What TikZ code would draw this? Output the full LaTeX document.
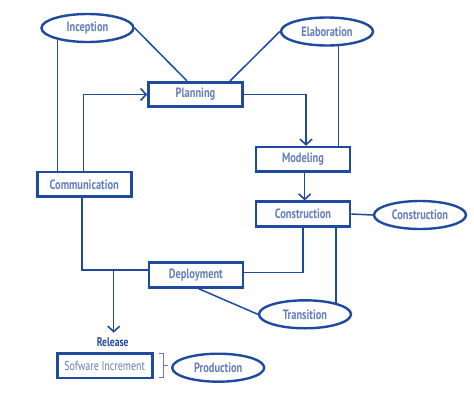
\documentclass[tikz,border=0pt]{standalone}
\usepackage{fontspec}
\setmainfont{PT Sans}[FakeStretch=0.77]
\usetikzlibrary{arrows.meta,shapes.geometric,calc}
\definecolor{dk}{RGB}{31,74,160}
\definecolor{lt}{RGB}{100,126,190}
\pgfdeclarelayer{bg}
\pgfsetlayers{bg,main}
\tikzset{
  box/.style={draw=dk,line width=2.6pt,fill=white,minimum width=94pt,minimum height=24.5pt,inner sep=0pt,font=\fontsize{13.5}{14}\selectfont\bfseries,text=lt},
  oval/.style={ellipse,draw=dk,line width=2.4pt,fill=white,minimum width=92pt,minimum height=28pt,inner sep=0pt,font=\fontsize{13.5}{14}\selectfont\bfseries,text=lt},
  conn/.style={draw=dk,line width=1.5pt},
  arr/.style={conn,-{Straight Barb[length=5.5pt,width=12pt,line width=1.6pt]}},
  brk/.style={draw=lt,line width=0.8pt},
}
\begin{document}
\begin{tikzpicture}[x=1pt,y=-1pt]
\useasboundingbox (0,0) rectangle (474,407);
% nodes
\node[oval] (inc) at (87.5,28) {Inception};
\node[oval] (ela) at (327,31.5) {Elaboration};
\node[box] (pl) at (195.5,94.5) {Planning};
\node[box] (md) at (303,159.3) {Modeling};
\node[box] (cs) at (303,214) {Construction};
\node[oval] (cse) at (420,215) {Construction};
\node[box] (cm) at (84.3,184.3) {Communication};
\node[box] (dp) at (195.8,275) {Deployment};
\node[oval] (tr) at (305,314.3) {Transition};
\node[font=\fontsize{12.5}{13}\selectfont\bfseries,text=dk] (rel) at (112.7,341.7) {Release};
\node[box,minimum width=95pt] (sw) at (104.7,365.7) {\fontsize{13}{14}\selectfont\mdseries Sofware Increment};
\node[oval] (pr) at (218.2,367.7) {Production};
\coordinate (x187) at (187,0);
\coordinate (x230) at (230,0);
\coordinate (x57) at (57.3,0);
\coordinate (x339) at (338.7,0);
\coordinate (x336) at (336,0);
\coordinate (jn) at (113.7,270);
\coordinate (rt) at (113.7,332.7);
\draw[brk] ([xshift=5pt,yshift=12pt]sw.east) -- ++(5,0) coordinate (b1) -- ++(0,23.5) coordinate (b2) -- ++(-5,0);
\draw[brk] ($(b1)!0.5!(b2)$) -- ++(4,0);
\begin{pgfonlayer}{bg}
\draw[conn] (inc.east) -- (pl.north -| x187);
\draw[conn] (ela.west) -- (pl.north -| x230);
\draw[conn] (inc.center -| x57) -- (cm.north -| x57);
\draw[arr] ([xshift=-1pt]cm.north) |- (pl.west);
\draw[arr] (pl.east) -| ([xshift=3pt]md.north);
\draw[conn] (ela.center -| x339) -- (md.north -| x339);
\draw[arr] ([xshift=1.7pt]md.south) -- ([xshift=1.7pt]cs.north);
\draw[conn] (cs.east) -- (cse.west);
\draw[conn] ([xshift=-2.3pt]cm.south) |- ([yshift=5pt]dp.west);
\draw[arr] (jn) -- (rt);
\draw[conn] (cs.south) |- ([yshift=2.3pt]dp.east);
\draw[conn] (cs.south -| x336) -- (tr.center -| x336);
\draw[conn] ([xshift=2.5pt]dp.south) -- (tr.west);
\end{pgfonlayer}
\end{tikzpicture}
\end{document}
